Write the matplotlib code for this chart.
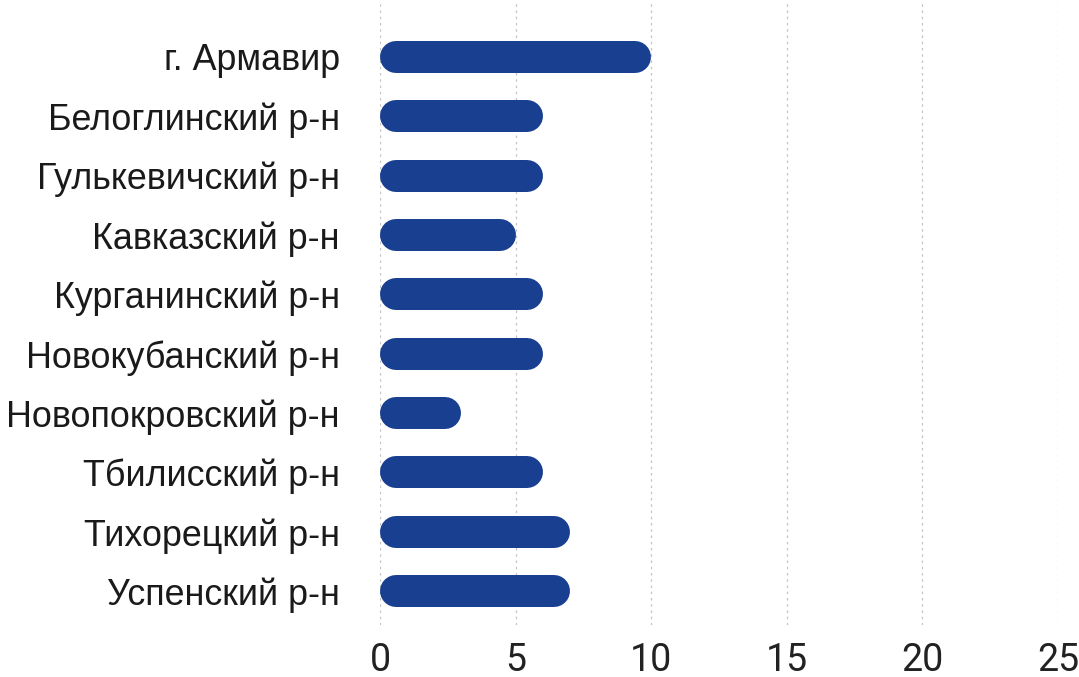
import matplotlib.pyplot as plt

regions = ['г. Армавир', 'Белоглинский р-н', 'Гулькевичский р-н', 'Кавказский р-н',
           'Курганинский р-н', 'Новокубанский р-н', 'Новопокровский р-н',
           'Тбилисский р-н', 'Тихорецкий р-н', 'Успенский р-н']
counts = [10, 6, 6, 5, 6, 6, 3, 6, 7, 7]
xticks = [0, 5, 10, 15, 20, 25]

bar_color = '#193f90'
bar_px = 32  # bar thickness in pixels

fig = plt.figure(figsize=(10.79, 6.77), dpi=100)
ax = fig.add_axes([380 / 1079, 1 - 625 / 677, (1058 - 380) / 1079, 625 / 677])
ax.set_xlim(0, 25)
ax.set_ylim(9.57, -0.96)

# radius of the rounded caps in data units along x
px_per_unit = ax.transData.transform((1, 0))[0] - ax.transData.transform((0, 0))[0]
r = (bar_px / 2) / px_per_unit
lw = bar_px * 72 / fig.dpi

for i, v in enumerate(counts):
    ax.plot([r, v - r], [i, i], color=bar_color, lw=lw, solid_capstyle='round', zorder=3)

ax.set_yticks(range(len(regions)))
ax.set_yticklabels(regions, fontsize=25.8, family='Liberation Sans', color='#1a1a1a')
ax.set_xticks(xticks)
ax.set_xticklabels([str(t) for t in xticks], fontsize=27, family='Roboto', color='#222222')
ax.tick_params(axis='y', length=0, pad=29)
ax.tick_params(axis='x', length=0, pad=12)

ax.grid(axis='x', color='#c4c4c4', lw=0.9, linestyle=(0, (2, 3)))
ax.set_axisbelow(True)
for s in ax.spines.values():
    s.set_visible(False)

fig.savefig('out.png', dpi=100)
